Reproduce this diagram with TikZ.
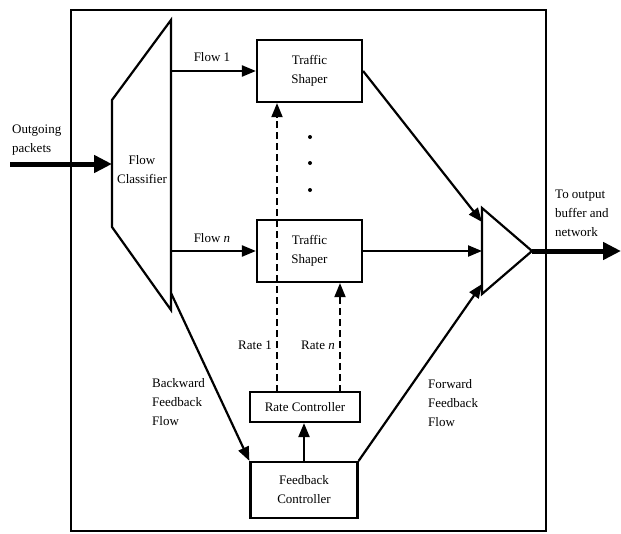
\documentclass[tikz,border=0pt]{standalone}
\usepackage{fontspec}
\setmainfont{Liberation Serif}
\usetikzlibrary{arrows.meta}
\begin{document}
\begin{tikzpicture}[x=1pt,y=-1pt,
  line/.style={line width=2.2pt,line join=miter},
  arr/.style={line width=2.2pt,-{Triangle[length=14pt,width=11pt]}},
  bigarr/.style={line width=5pt,-{Triangle[length=18pt,width=17pt]}},
  dasharr/.style={line width=1.8pt,dash pattern=on 7pt off 4pt,-{Triangle[length=14pt,width=11pt]}},
  box/.style={draw,line width=2.2pt,inner sep=0pt,align=center,font=\fontsize{13}{19}\selectfont},
  lbl/.style={font=\fontsize{13}{19}\selectfont,align=left,inner sep=0pt},
  dot/.style={circle,fill,inner sep=0pt,minimum size=4pt}]
\useasboundingbox (0,0) rectangle (621,533);
% frame
\node[draw,line width=2.2pt,minimum width=475pt,minimum height=521pt,inner sep=0pt,anchor=north west] (frame) at (70,9) {};
% flow classifier
\coordinate (c1) at (171,20);
\coordinate (c2) at (171,310);
\coordinate (c3) at (112,227);
\coordinate (c4) at (112,100);
\draw[line] (c1) -- (c2) -- (c3) -- (c4) -- cycle;
\node[lbl,align=center] (fc) at (142,170) {Flow\\Classifier};
\coordinate (clsin) at (112,164);
\coordinate (clsf1) at (171,71);
\coordinate (clsfn) at (171,251);
\coordinate (clsb) at (171,293);
% boxes
\node[box,minimum width=105pt,minimum height=62pt] (ts1) at (309.5,71) {Traffic\\Shaper};
\node[box,minimum width=105pt,minimum height=62pt] (tsn) at (309.5,251) {Traffic\\Shaper};
\node[box,minimum width=110pt,minimum height=30pt] (rc) at (305,407) {Rate Controller};
\node[box,minimum width=107pt,minimum height=56pt] (fbc) at (304,490) {Feedback\\Controller};
% dots
\node[dot] (d1) at (310,137) {};
\node[dot] (d2) at (310,163) {};
\node[dot] (d3) at (310,190) {};
% combiner triangle
\coordinate (t1) at (482,208);
\coordinate (t2) at (482,294);
\coordinate (t3) at (532,251);
\draw[line] (t1) -- (t3) -- (t2) -- cycle;
\coordinate (tin1) at (482,222);
\coordinate (tinn) at (482,251);
\coordinate (tin2) at (482,284);
% inputs / outputs
\coordinate (inl) at (10,164);
\coordinate (outr) at (621,251);
\draw[bigarr] (inl) -- (clsin);
\draw[bigarr] (t3) -- (outr);
% flows
\draw[arr] (clsf1) -- (ts1.west);
\draw[arr] (clsfn) -- (tsn.west);
\draw[arr] (ts1.east) -- (tin1);
\draw[arr] (tsn.east) -- (tinn);
\draw[arr] (fbc.north east) -- (tin2);
\draw[arr] (clsb) -- (fbc.north west);
\draw[arr] (fbc.north) -- (rc.south -| fbc.north);
% dashed rate arrows
\coordinate (r1) at (277,392);
\coordinate (rn) at (340,392);
\draw[dasharr] (r1) -- (r1 |- ts1.south);
\draw[dasharr] (rn) -- (rn |- tsn.south);
% labels
\node[lbl] (lf1) at (212,57) {Flow 1};
\node[lbl] (lfn) at (212,238) {Flow \textit{n}};
\node[lbl,anchor=west] (lin) at (12,140) {Outgoing\\packets};
\node[lbl,anchor=west] (lout) at (555,213) {To output\\buffer and\\network};
\node[lbl,anchor=east] (lr1) at (272,345) {Rate 1};
\node[lbl] (lrn) at (318,345) {Rate \textit{n}};
\node[lbl,anchor=west] (lbw) at (152,402) {Backward\\Feedback\\Flow};
\node[lbl,anchor=west] (lfw) at (428,403) {Forward\\Feedback\\Flow};
\end{tikzpicture}
\end{document}
